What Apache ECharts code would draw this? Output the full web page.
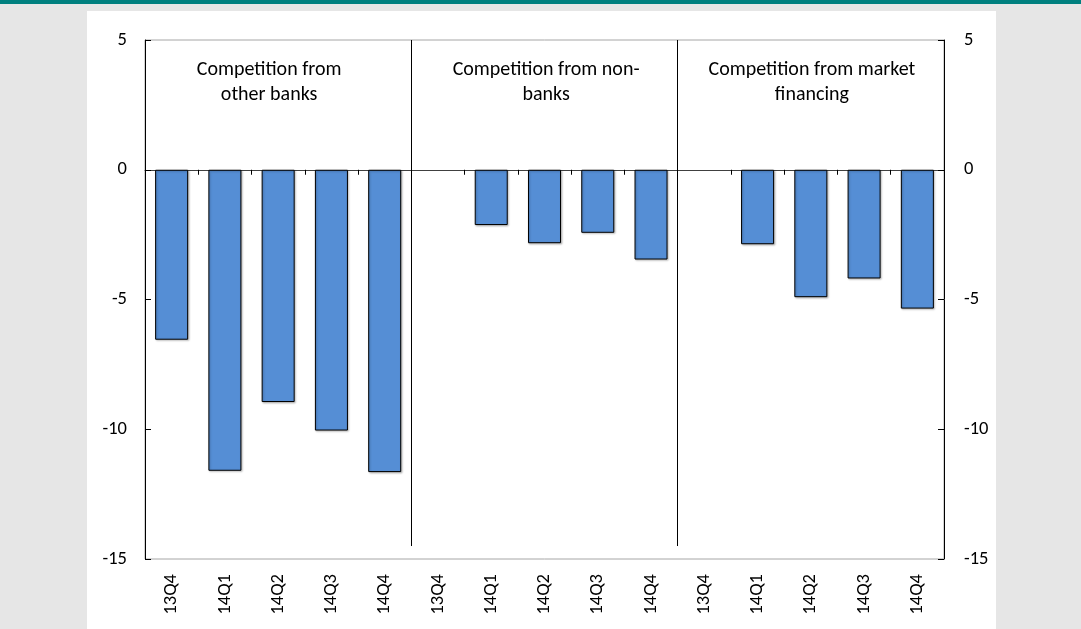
<!DOCTYPE html>
<html>
<head>
<meta charset="utf-8">
<script src="https://cdn.jsdelivr.net/npm/echarts@6/dist/echarts.min.js"></script>
<style>
  html, body { margin: 0; padding: 0; width: 1081px; height: 629px; background: #e6e6e6; overflow: hidden; }
  #topbar { position: absolute; left: 0; top: 0; width: 1081px; height: 4px; background: #00807f; }
  #chart { position: absolute; left: 87px; top: 11px; width: 909px; height: 618px; background: #ffffff; }
</style>
</head>
<body>
<div id="topbar"></div>
<div id="chart"></div>
<script>
// ---- data ----
const quarters = ['13Q4', '14Q1', '14Q2', '14Q3', '14Q4'];
const groupTitles = ['Competition from\nother banks', 'Competition from non-\nbanks', 'Competition from market\nfinancing'];
const otherBanks = [-6.55, -11.6, -8.95, -10.05, -11.65];
const nonBanks = [null, -2.13, -2.83, -2.43, -3.46];
const marketFinancing = [null, -2.87, -4.91, -4.19, -5.35];
const yTicks = { min: -15, max: 5, interval: 5 };

// ---- derived ----
const categories = [].concat(quarters, quarters, quarters);
const values = [].concat(otherBanks, nonBanks, marketFinancing);
const nGroups = groupTitles.length;
const nPer = quarters.length;
const separators = [];
for (let g = 1; g < nGroups; g++) separators.push(g * nPer);
// label anchors in category units (layout)
const titleAnchorX = [2.33, 7.53, 12.52];
const titleAnchorY = 3.37;
const sepBottom = -14.5;

const FONT = 'Carlito, Lato, "Liberation Sans", sans-serif';

const chart = echarts.init(document.getElementById('chart'), null, { renderer: 'canvas' });
const option = {
  animation: false,
  backgroundColor: '#ffffff',
  textStyle: { fontFamily: FONT },
  grid: {
    left: 58, top: 29, right: 52, bottom: 70,
    show: true, borderColor: '#a6a6a6', borderWidth: 1, backgroundColor: 'transparent'
  },
  xAxis: [
    {
      type: 'category', data: categories, position: 'bottom',
      axisLine: { show: false, onZero: false },
      axisTick: { show: false },
      axisLabel: { rotate: 90, margin: 15, fontSize: 18.5, color: '#000', fontFamily: FONT, interval: 0 },
      splitLine: { show: false }
    },
    {
      type: 'category', data: categories, position: 'bottom',
      axisLine: { show: true, onZero: true, onZeroAxisIndex: 0, lineStyle: { color: '#404040', width: 1 } },
      axisTick: { show: true, length: 5, interval: 0, lineStyle: { color: '#000', width: 1 } },
      axisLabel: { show: false },
      splitLine: { show: false }
    },
    {
      type: 'value', min: 0, max: categories.length, show: false
    }
  ],
  yAxis: [
    {
      type: 'value', position: 'left', min: yTicks.min, max: yTicks.max, interval: yTicks.interval,
      axisLine: { show: true, onZero: false, lineStyle: { color: '#000', width: 1 } },
      axisTick: { show: true, inside: true, length: 6, lineStyle: { color: '#000' } },
      axisLabel: { margin: 18, fontSize: 18.5, color: '#000', fontFamily: FONT },
      splitLine: { show: false }
    },
    {
      type: 'value', position: 'right', min: yTicks.min, max: yTicks.max, interval: yTicks.interval,
      axisLine: { show: true, onZero: false, lineStyle: { color: '#000', width: 1 } },
      axisTick: { show: true, inside: true, length: 6, lineStyle: { color: '#000' } },
      axisLabel: { margin: 20, fontSize: 18.5, color: '#000', fontFamily: FONT },
      splitLine: { show: false }
    }
  ],
  series: [
    {
      type: 'bar', xAxisIndex: 0, yAxisIndex: 0, data: values,
      barCategoryGap: '38%',
      itemStyle: {
        color: '#558ed5', borderColor: '#000', borderWidth: 1,
        shadowColor: 'rgba(0,0,0,0.25)', shadowBlur: 2, shadowOffsetX: 1, shadowOffsetY: 1
      },
      z: 3
    },
    {
      type: 'line', xAxisIndex: 2, yAxisIndex: 0, data: [], silent: true,
      markLine: {
        silent: true, symbol: 'none', animation: false,
        label: { show: false },
        lineStyle: { color: '#000', width: 1, type: 'solid' },
        data: separators.map(s => [{ coord: [s, yTicks.max] }, { coord: [s, sepBottom] }])
      },
      markPoint: {
        silent: true, symbol: 'circle', symbolSize: 0, animation: false,
        label: {
          show: true, position: 'inside', color: '#000', fontSize: 20, lineHeight: 25,
          fontFamily: FONT, align: 'center', verticalAlign: 'middle',
          formatter: p => p.name
        },
        data: groupTitles.map((t, i) => ({ name: t, coord: [titleAnchorX[i], titleAnchorY] }))
      }
    }
  ]
};
chart.setOption(option);
</script>
</body>
</html>
